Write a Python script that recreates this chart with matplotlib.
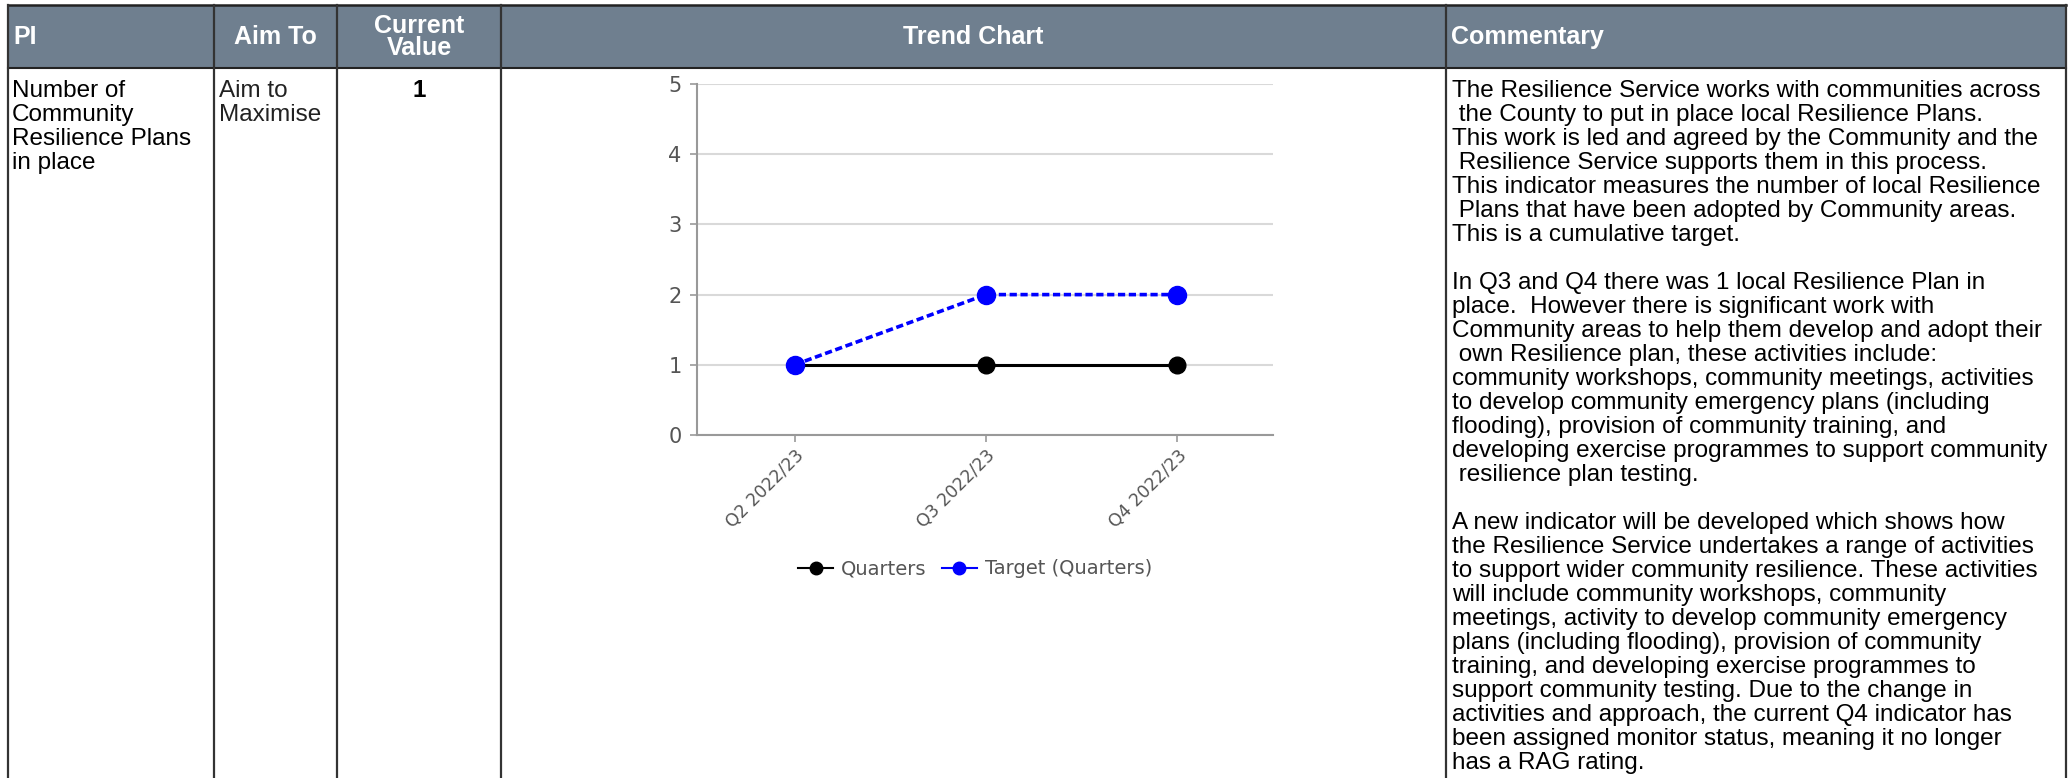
"""PI table row: Community Resilience Plans, with trend chart and commentary."""
import matplotlib.pyplot as plt
from matplotlib.lines import Line2D
from matplotlib.patches import Rectangle

W, H = 2069, 778

# chart data
quarters = ["Q2 2022/23", "Q3 2022/23", "Q4 2022/23"]
actual = [1, 1, 1]
target = [1, 2, 2]
series_names = ["Quarters", "Target (Quarters)"]

# table text
headers = ["PI", "Aim To", "Current\nValue", "Trend Chart", "Commentary"]
pi_name = ["Number of", "Community", "Resilience Plans", "in place"]
aim = ["Aim to", "Maximise"]
current_value = "1"
commentary = [
    "The Resilience Service works with communities across",
    " the County to put in place local Resilience Plans.",
    "This work is led and agreed by the Community and the",
    " Resilience Service supports them in this process.",
    "This indicator measures the number of local Resilience",
    " Plans that have been adopted by Community areas.",
    "This is a cumulative target.",
    "",
    "In Q3 and Q4 there was 1 local Resilience Plan in",
    "place.  However there is significant work with",
    "Community areas to help them develop and adopt their",
    " own Resilience plan, these activities include:",
    "community workshops, community meetings, activities",
    "to develop community emergency plans (including",
    "flooding), provision of community training, and",
    "developing exercise programmes to support community",
    " resilience plan testing.",
    "",
    "A new indicator will be developed which shows how",
    "the Resilience Service undertakes a range of activities",
    "to support wider community resilience. These activities",
    "will include community workshops, community",
    "meetings, activity to develop community emergency",
    "plans (including flooding), provision of community",
    "training, and developing exercise programmes to",
    "support community testing. Due to the change in",
    "activities and approach, the current Q4 indicator has",
    "been assigned monitor status, meaning it no longer",
    "has a RAG rating.",
]

HEAD = "#6f7f8f"
TXT = "Liberation Sans"
col_x = [8, 214, 337, 501, 1446, 2066]
head_top, head_bot = 5, 68
first_base, pitch = 97, 24


def main():
    fig = plt.figure(figsize=(W / 100, H / 100), dpi=100)
    bg = fig.add_axes([0, 0, 1, 1])
    bg.set_xlim(0, W)
    bg.set_ylim(H, 0)
    bg.axis("off")

    # header band and grid lines
    bg.add_patch(Rectangle((col_x[0], head_top), col_x[-1] - col_x[0], head_bot - head_top,
                           fc=HEAD, ec="none"))
    bg.plot([col_x[0], col_x[-1]], [head_top, head_top], color="#222", lw=1.8)
    bg.plot([col_x[0], col_x[-1]], [head_bot, head_bot], color="#222", lw=1.5)
    for x in col_x:
        bg.plot([x, x], [head_top, H], color="#333", lw=1.6)

    hkw = dict(color="white", fontsize=18, fontweight="bold", family=TXT, va="center")
    bg.text(col_x[0] + 5, 37, headers[0], ha="left", **hkw)
    bg.text((col_x[1] + col_x[2]) / 2, 37, headers[1], ha="center", **hkw)
    bg.text((col_x[2] + col_x[3]) / 2, 37, headers[2], ha="center", linespacing=0.85, **hkw)
    bg.text((col_x[3] + col_x[4]) / 2, 37, headers[3], ha="center", **hkw)
    bg.text(col_x[4] + 5, 37, headers[4], ha="left", **hkw)

    bkw = dict(fontsize=17.5, family=TXT, va="baseline")
    for i, line in enumerate(pi_name):
        bg.text(col_x[0] + 4, first_base + i * pitch, line, color="black", **bkw)
    for i, line in enumerate(aim):
        bg.text(col_x[1] + 5, first_base + i * pitch, line, color="#222", **bkw)
    bg.text((col_x[2] + col_x[3]) / 2, first_base, current_value, ha="center",
            fontweight="bold", color="black", **bkw)
    for i, line in enumerate(commentary):
        bg.text(col_x[4] + 6, first_base + i * pitch, line, color="black", **bkw)

    # trend chart
    left, right, y0, y5 = 697, 1273, 435, 84
    ax = fig.add_axes([left / W, 1 - y0 / H, (right - left) / W, (y0 - y5) / H])
    x = range(len(quarters))
    ax.plot(x, actual, color="black", lw=2.2, marker="o", ms=12, zorder=3)
    ax.plot(x, target, color="#0000ff", lw=2.6, ls=(0, (2, 1)), marker="o", ms=13, zorder=4)
    ax.set_xlim(-0.51, 2.5)
    ax.set_ylim(0, 5)
    ax.set_yticks(range(6))
    ax.yaxis.grid(True, color="#d9d9d9", lw=1.5)
    ax.set_axisbelow(True)
    for s in ("top", "right"):
        ax.spines[s].set_visible(False)
    for s in ("left", "bottom"):
        ax.spines[s].set_color("#999999")
        ax.spines[s].set_linewidth(1.5)
    ax.set_xticks(list(x))
    ax.set_xticklabels(quarters, rotation=45, ha="right", va="top", rotation_mode="anchor",
                       fontsize=12.5)
    ax.tick_params(colors="#999999", labelcolor="#555555", length=5, width=1.2)
    ax.tick_params(axis="y", labelsize=15, pad=6)

    handles = [
        Line2D([], [], color="black", lw=1.5, marker="o", ms=9),
        Line2D([], [], color="#0000ff", lw=1.5, marker="o", ms=9),
    ]
    fig.legend(handles, series_names, loc="center", bbox_to_anchor=(975 / W, 1 - 569 / H),
               ncol=2, frameon=False, fontsize=14, labelcolor="#555555",
               handlelength=1.8, handletextpad=0.4, columnspacing=0.8)

    fig.savefig("out.png", dpi=100)


if __name__ == "__main__":
    main()
